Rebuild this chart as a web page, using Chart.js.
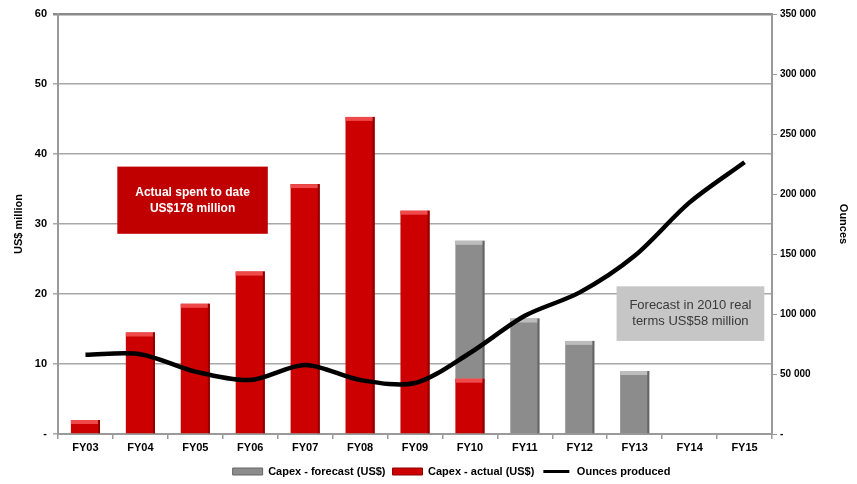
<!DOCTYPE html>
<html lang="en">
<head>
    <meta charset="UTF-8">
    <title>Capex and ounces produced</title>
    <style>
        body {
            margin: 0;
            padding: 0;
            background-color: #fff;
        }
        .chart-wrap {
            position: relative;
            width: 857px;
            height: 484px;
        }
    </style>
</head>
<body>

<div class="chart-wrap">
    <canvas id="capexChart"></canvas>
</div>

<script src="https://cdn.jsdelivr.net/npm/chart.js"></script>
<script>
    // values
    const years = ['FY03', 'FY04', 'FY05', 'FY06', 'FY07', 'FY08', 'FY09', 'FY10', 'FY11', 'FY12', 'FY13', 'FY14', 'FY15'];
    const capexActual = [2.0, 14.5, 18.6, 23.2, 35.7, 45.3, 31.9, 7.9, null, null, null, null, null];
    const capexForecast = [null, null, null, null, null, null, null, 19.7, 16.5, 13.3, 9.0, null, null];
    const ouncesProduced = [66000, 66500, 52000, 45000, 57500, 45000, 42500, 67500, 98500, 118000, 148500, 193000, 226500];

    const leftTicks = { min: 0, max: 60, step: 10 };
    const rightTicks = { min: 0, max: 350000, step: 50000 };

    const notes = [
        { lines: ['Actual spent to date', 'US$178 million'], x0: 0.58, x1: 3.32, y0: 38.2, y1: 28.6,
          fill: '#c00000', color: '#ffffff', font: 'bold 12px "Liberation Sans", Arial, sans-serif' },
        { lines: ['Forecast in 2010 real', 'terms US$58 million'], x0: 9.67, x1: 12.36, y0: 21.1, y1: 13.3,
          fill: '#c6c6c6', color: '#3a3a3a', font: '13px "Liberation Sans", Arial, sans-serif' }
    ];

    const fontFamily = '"Liberation Sans", Arial, sans-serif';

    // lighter top edge and darker right edge on each bar, drawn right after its own dataset
    const bevelPlugin = {
        id: 'bevel',
        afterDatasetDraw(chart, args) {
            const ds = chart.data.datasets[args.index];
            if (ds.type !== 'bar' || !ds.bevel) return;
            const ctx = chart.ctx;
            args.meta.data.forEach((bar, j) => {
                if (ds.data[j] == null) return;
                const left = bar.x - bar.width / 2;
                const h = bar.base - bar.y;
                ctx.save();
                ctx.fillStyle = ds.bevel.top;
                ctx.fillRect(left, bar.y, bar.width, Math.min(4, h));
                ctx.fillStyle = ds.bevel.side;
                ctx.fillRect(left + bar.width - 2, bar.y, 2, h);
                ctx.restore();
            });
        }
    };

    // the legend in the original sits a little right of centre
    const legendShift = {
        id: 'legendShift',
        afterLayout(chart) {
            chart.legend.left += 23;
            chart.legend.right += 23;
        }
    };

    const notesPlugin = {
        id: 'notes',
        afterDraw(chart) {
            const ctx = chart.ctx;
            const xs = chart.scales.x;
            const ys = chart.scales.y;
            const step = xs.getPixelForValue(1) - xs.getPixelForValue(0);
            notes.forEach(n => {
                const l = xs.getPixelForValue(0) + n.x0 * step;
                const r = xs.getPixelForValue(0) + n.x1 * step;
                const t = ys.getPixelForValue(n.y0);
                const b = ys.getPixelForValue(n.y1);
                ctx.save();
                ctx.fillStyle = n.fill;
                ctx.fillRect(l, t, r - l, b - t);
                ctx.fillStyle = n.color;
                ctx.font = n.font;
                ctx.textAlign = 'center';
                ctx.textBaseline = 'middle';
                const cy = (t + b) / 2;
                ctx.fillText(n.lines[0], (l + r) / 2, cy - 8);
                ctx.fillText(n.lines[1], (l + r) / 2, cy + 8);
                ctx.restore();
            });
        }
    };

    const ctx = document.getElementById('capexChart').getContext('2d');
    const chart = new Chart(ctx, {
        data: {
            labels: years,
            datasets: [
                {
                    type: 'line',
                    label: 'Ounces produced',
                    data: ouncesProduced,
                    yAxisID: 'y1',
                    borderColor: '#000000',
                    borderWidth: 4.5,
                    pointRadius: 0,
                    tension: 0.3,
                    order: 0
                },
                {
                    type: 'bar',
                    label: 'Capex - actual (US$)',
                    data: capexActual,
                    yAxisID: 'y',
                    backgroundColor: '#cc0000',
                    bevel: { top: '#ee4a4a', side: '#8e0000' },
                    categoryPercentage: 1,
                    barPercentage: 0.53,
                    order: 1
                },
                {
                    type: 'bar',
                    label: 'Capex - forecast (US$)',
                    data: capexForecast,
                    yAxisID: 'y',
                    backgroundColor: '#8c8c8c',
                    bevel: { top: '#bdbdbd', side: '#666666' },
                    categoryPercentage: 1,
                    barPercentage: 0.53,
                    order: 1
                }
            ]
        },
        options: {
            responsive: true,
            maintainAspectRatio: false,
            animation: false,
            layout: { padding: { top: 14, bottom: -3 } },
            plugins: {
                tooltip: { enabled: false },
                legend: {
                    position: 'bottom',
                    labels: {
                        boxWidth: 30,
                        boxHeight: 7,
                        padding: 7,
                        color: '#000',
                        font: { family: fontFamily, size: 11, weight: 'bold' },
                        sort: (a, b) => b.datasetIndex - a.datasetIndex,
                        generateLabels(chart) {
                            return chart.data.datasets.map((ds, i) => ({
                                text: ds.label,
                                datasetIndex: i,
                                fillStyle: ds.type === 'line' ? '#000' : ds.backgroundColor,
                                strokeStyle: ds.type === 'line' ? '#fff' : ds.bevel.side,
                                lineWidth: ds.type === 'line' ? 4 : 1,
                                fontColor: '#000',
                                hidden: false
                            }));
                        }
                    }
                }
            },
            scales: {
                x: {
                    stacked: true,
                    offset: true,
                    grid: {
                        offset: true,
                        drawOnChartArea: false,
                        drawTicks: true,
                        tickLength: 5,
                        color: '#9a9a9a',
                        lineWidth: 1.5
                    },
                    border: { color: '#9a9a9a', width: 2 },
                    ticks: {
                        color: '#000',
                        padding: 2,
                        font: { family: fontFamily, size: 11, weight: 'bold' }
                    },
                    afterFit(scale) { scale.height = 25; }
                },
                y: {
                    position: 'left',
                    stacked: true,
                    min: leftTicks.min,
                    max: leftTicks.max,
                    grid: {
                        color: ctx => ctx.tick && ctx.tick.value === leftTicks.max ? '#8a8a8a' : '#a8a8a8',
                        lineWidth: ctx => ctx.tick && ctx.tick.value === leftTicks.max ? 2.5 : 1.5,
                        tickLength: 5
                    },
                    border: { color: '#9a9a9a', width: 2 },
                    ticks: {
                        stepSize: leftTicks.step,
                        color: '#000',
                        padding: 6,
                        font: { family: fontFamily, size: 11, weight: 'bold' },
                        callback: v => v === 0 ? '-' : v
                    },
                    title: {
                        display: true,
                        text: 'US$ million',
                        color: '#000',
                        padding: { top: 12, bottom: 0 },
                        font: { family: fontFamily, size: 11, weight: 'bold' }
                    },
                    afterFit(scale) { scale.width = 58; }
                },
                y1: {
                    position: 'right',
                    min: rightTicks.min,
                    max: rightTicks.max,
                    grid: {
                        drawOnChartArea: false,
                        color: '#9a9a9a',
                        tickLength: 5
                    },
                    border: { color: '#9a9a9a', width: 2 },
                    ticks: {
                        stepSize: rightTicks.step,
                        color: '#000',
                        padding: 3,
                        font: { family: fontFamily, size: 10, weight: 'bold' },
                        callback: v => v === 0 ? '-' : v.toLocaleString('en-US').replace(/,/g, ' ')
                    },
                    title: {
                        display: true,
                        text: 'Ounces',
                        color: '#000',
                        padding: { top: 7, bottom: 0 },
                        font: { family: fontFamily, size: 11, weight: 'bold' }
                    },
                    afterFit(scale) { scale.width = 85; }
                }
            }
        },
        plugins: [bevelPlugin, legendShift, notesPlugin]
    });
</script>

</body>
</html>
